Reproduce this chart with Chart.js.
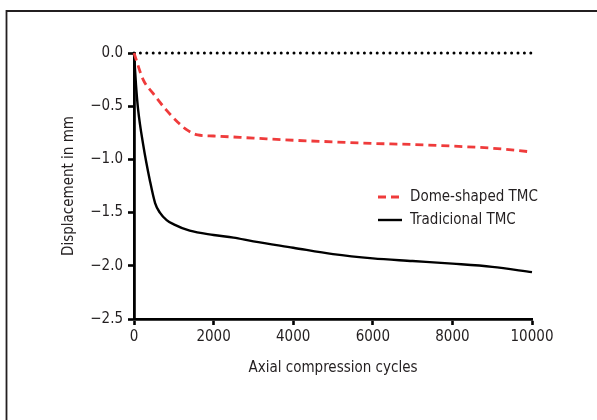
<!DOCTYPE html>
<html>
<head>
<meta charset="utf-8">
<script src="https://cdn.jsdelivr.net/npm/chart.js@4.4.1/dist/chart.umd.min.js"></script>
<style>
  html, body { margin: 0; padding: 0; background: #fff; }
  #wrap { position: relative; width: 597px; height: 420px; }
</style>
</head>
<body>
<div id="wrap"><canvas id="chart" width="597" height="420"></canvas></div>
<script>
// values
const domeCycles = [0, 230, 480, 820, 1100, 1320, 1600, 2000, 3000, 4000, 5000, 6000, 7000, 8000, 9000, 10000];
const domeDisp = [0, -0.25, -0.38, -0.54, -0.65, -0.72, -0.77, -0.78, -0.80, -0.82, -0.835, -0.85, -0.86, -0.875, -0.895, -0.93];

const tradCycles = [0, 50, 100, 230, 400, 530, 650, 820, 1000, 1400, 2000, 2500, 3000, 4000, 5000, 6000, 7000, 8000, 9000, 10000];
const tradDisp = [0, -0.3, -0.52, -0.86, -1.2, -1.41, -1.5, -1.57, -1.61, -1.67, -1.71, -1.735, -1.77, -1.83, -1.89, -1.93, -1.955, -1.98, -2.01, -2.06];

const zeroCycles = [0, 10000];
const zeroDisp = [0, 0];

const xTicks = [0, 2000, 4000, 6000, 8000, 10000];
const yTicks = [0, -0.5, -1.0, -1.5, -2.0, -2.5];

const seriesNames = ['Dome-shaped TMC', 'Tradicional TMC'];

const FONT = '"Liberation Sans Narrow", "DejaVu Sans Condensed", "Arial Narrow", sans-serif';
const INK = '#231f20';
const RED = '#ef3b3b';

const pairs = (xs, ys) => xs.map((x, i) => ({ x: x, y: ys[i] }));

// outer frame (only the top and left edges show in the picture)
const framePlugin = {
    id: 'frame',
    beforeDraw(chart) {
        const c = chart.ctx;
        c.save();
        c.strokeStyle = INK;
        c.lineWidth = 1.8;
        c.beginPath();
        c.moveTo(6.5, 420);
        c.lineTo(6.5, 11);
        c.lineTo(597, 11);
        c.stroke();
        c.restore();
    }
};

// legend drawn inside the plot area
const insideLegend = {
    id: 'insideLegend',
    afterDraw(chart) {
        const c = chart.ctx;
        const x0 = 378, y0 = 197, gap = 23;
        c.save();
        c.font = '15px ' + FONT;
        c.textBaseline = 'middle';
        c.fillStyle = INK;
        [0, 1].forEach(i => {
            const ds = chart.data.datasets[i];
            const y = y0 + i * gap;
            c.strokeStyle = ds.borderColor;
            c.lineWidth = ds.borderWidth;
            c.setLineDash(ds.borderDash || []);
            c.beginPath();
            c.moveTo(x0, y);
            c.lineTo(x0 + 24, y);
            c.stroke();
            c.setLineDash([]);
            c.fillText(ds.label, x0 + 32, y);
        });
        c.restore();
    }
};

const minus = s => s.replace('-', '\u2212');

new Chart(document.getElementById('chart'), {
    type: 'line',
    data: {
        datasets: [
            {
                label: seriesNames[0],
                data: pairs(domeCycles, domeDisp),
                borderColor: RED,
                borderWidth: 2.8,
                borderDash: [8, 5],
                pointRadius: 0,
                cubicInterpolationMode: 'monotone',
                clip: false,
                fill: false
            },
            {
                label: seriesNames[1],
                data: pairs(tradCycles, tradDisp),
                borderColor: '#000',
                borderWidth: 2.4,
                pointRadius: 0,
                cubicInterpolationMode: 'monotone',
                clip: false,
                fill: false
            },
            {
                label: 'zero',
                data: pairs(zeroCycles, zeroDisp),
                borderColor: '#000',
                borderWidth: 3,
                borderDash: [0, 6.4],
                borderCapStyle: 'round',
                pointRadius: 0,
                clip: false,
                fill: false
            }
        ]
    },
    options: {
        responsive: false,
        animation: false,
        layout: { padding: { top: 53, right: 65, left: 0, bottom: 0 } },
        plugins: {
            legend: { display: false },
            tooltip: { enabled: false }
        },
        scales: {
            x: {
                type: 'linear',
                min: 0,
                max: 10000,
                afterBuildTicks: s => { s.ticks = xTicks.map(v => ({ value: v })); },
                afterFit: s => { s.height = 101; },
                grid: { drawOnChartArea: false, tickLength: 6, tickWidth: 2.6, tickColor: '#000' },
                border: { color: '#000', width: 2.8 },
                ticks: {
                    color: INK,
                    font: { family: FONT, size: 15 },
                    padding: 3,
                    maxRotation: 0,
                    callback: v => String(v)
                },
                title: {
                    display: true,
                    text: 'Axial compression cycles',
                    color: INK,
                    font: { family: FONT, size: 15 },
                    padding: { top: 0, bottom: 43 }
                }
            },
            y: {
                type: 'linear',
                min: -2.5,
                max: 0,
                afterBuildTicks: s => { s.ticks = yTicks.map(v => ({ value: v })); },
                afterFit: s => { s.width = 134; },
                grid: { drawOnChartArea: false, tickLength: 6, tickWidth: 2.6, tickColor: '#000' },
                border: { color: '#000', width: 2.8 },
                ticks: {
                    color: INK,
                    font: { family: FONT, size: 15 },
                    padding: 5,
                    callback: v => minus(v.toFixed(1))
                },
                title: {
                    display: true,
                    text: 'Displacement in mm',
                    color: INK,
                    font: { family: FONT, size: 15 },
                    padding: { top: 60, bottom: 0 }
                }
            }
        }
    },
    plugins: [framePlugin, insideLegend]
});
</script>
</body>
</html>
